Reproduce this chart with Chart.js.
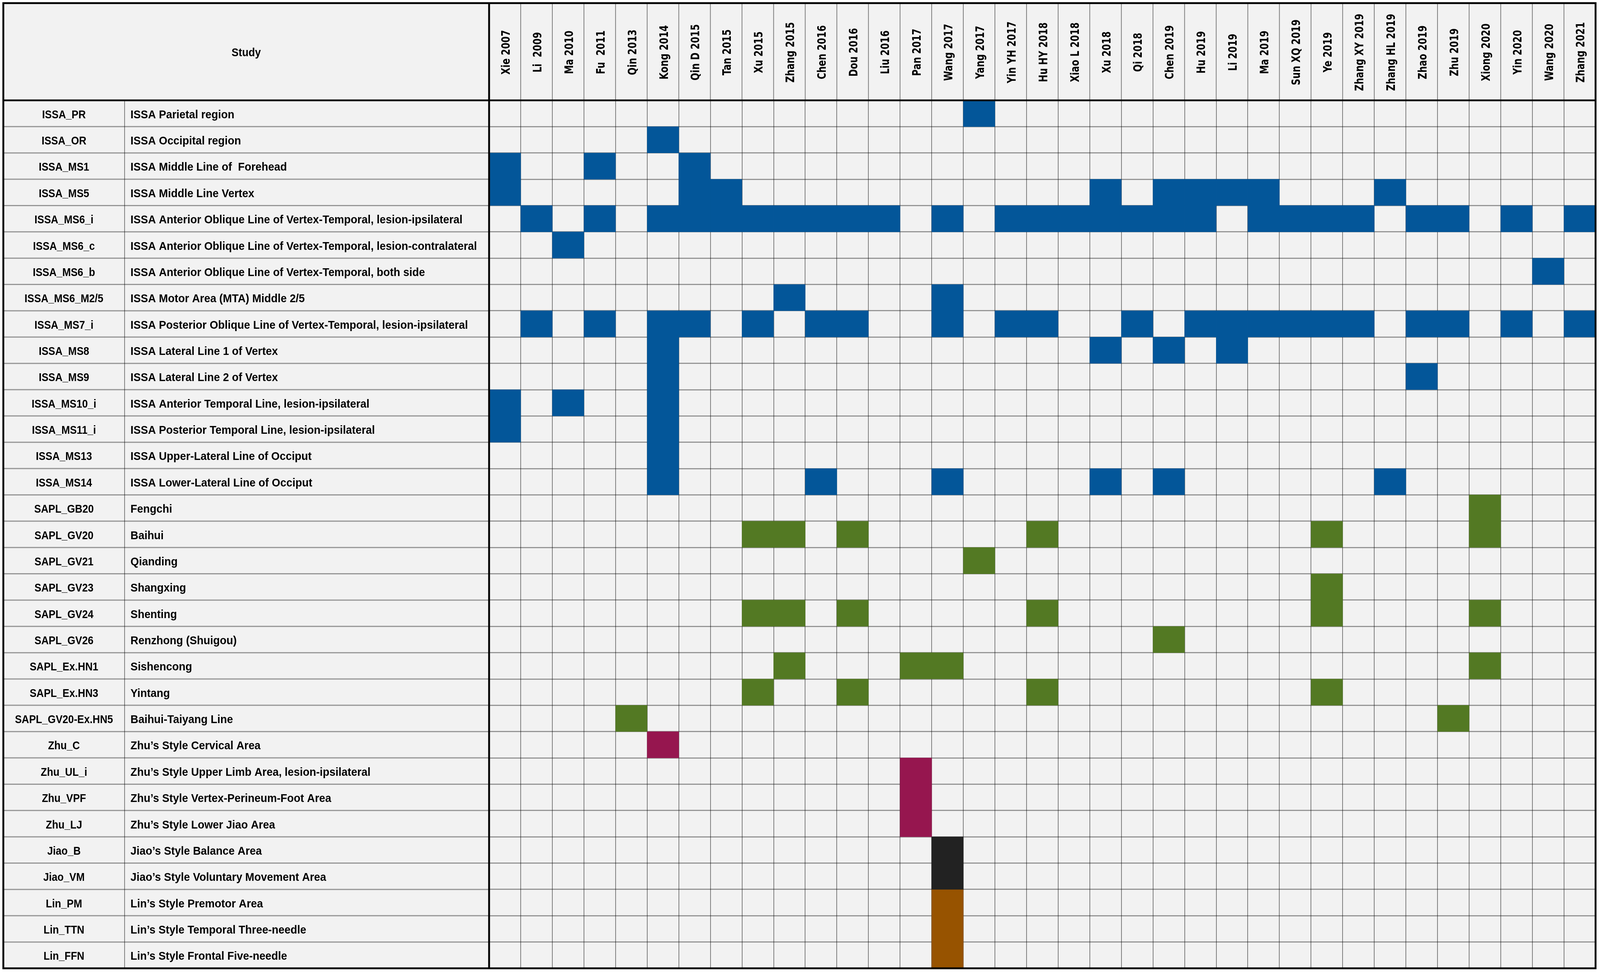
<!DOCTYPE html>
<html>
<head>
<meta charset="utf-8">
<title>Scalp acupuncture areas used per study</title>
<script src="https://cdn.jsdelivr.net/npm/chart.js@4.4.1/dist/chart.umd.min.js"></script>
<style>
  html, body { margin: 0; padding: 0; background: #fff; overflow: hidden; }
  canvas { display: block; }
</style>
</head>
<body>
<canvas id="myChart"></canvas>
<script>

var studies = ['Xie 2007', 'Li  2009', 'Ma 2010', 'Fu  2011', 'Qin 2013', 'Kong 2014', 'Qin D 2015',
  'Tan 2015', 'Xu 2015', 'Zhang 2015', 'Chen 2016', 'Dou 2016', 'Liu 2016', 'Pan 2017', 'Wang 2017',
  'Yang 2017', 'Yin YH 2017', 'Hu HY 2018', 'Xiao L 2018', 'Xu 2018', 'Qi 2018', 'Chen 2019',
  'Hu 2019', 'Li 2019', 'Ma 2019', 'Sun XQ 2019', 'Ye 2019', 'Zhang XY 2019', 'Zhang HL 2019',
  'Zhao 2019', 'Zhu 2019', 'Xiong 2020', 'Yin 2020', 'Wang 2020', 'Zhang 2021'];

var codes = ['ISSA_PR', 'ISSA_OR', 'ISSA_MS1', 'ISSA_MS5', 'ISSA_MS6_i', 'ISSA_MS6_c', 'ISSA_MS6_b',
  'ISSA_MS6_M2/5', 'ISSA_MS7_i', 'ISSA_MS8', 'ISSA_MS9', 'ISSA_MS10_i', 'ISSA_MS11_i', 'ISSA_MS13',
  'ISSA_MS14', 'SAPL_GB20', 'SAPL_GV20', 'SAPL_GV21', 'SAPL_GV23', 'SAPL_GV24', 'SAPL_GV26',
  'SAPL_Ex.HN1', 'SAPL_Ex.HN3', 'SAPL_GV20-Ex.HN5', 'Zhu_C', 'Zhu_UL_i', 'Zhu_VPF', 'Zhu_LJ',
  'Jiao_B', 'Jiao_VM', 'Lin_PM', 'Lin_TTN', 'Lin_FFN'];

var descriptions = ['ISSA Parietal region', 'ISSA Occipital region', 'ISSA Middle Line of  Forehead',
  'ISSA Middle Line Vertex', 'ISSA Anterior Oblique Line of Vertex-Temporal, lesion-ipsilateral',
  'ISSA Anterior Oblique Line of Vertex-Temporal, lesion-contralateral',
  'ISSA Anterior Oblique Line of Vertex-Temporal, both side', 'ISSA Motor Area (MTA) Middle 2/5',
  'ISSA Posterior Oblique Line of Vertex-Temporal, lesion-ipsilateral', 'ISSA Lateral Line 1 of Vertex',
  'ISSA Lateral Line 2 of Vertex', 'ISSA Anterior Temporal Line, lesion-ipsilateral',
  'ISSA Posterior Temporal Line, lesion-ipsilateral', 'ISSA Upper-Lateral Line of Occiput',
  'ISSA Lower-Lateral Line of Occiput', 'Fengchi', 'Baihui', 'Qianding', 'Shangxing', 'Shenting',
  'Renzhong (Shuigou)', 'Sishencong', 'Yintang', 'Baihui-Taiyang Line', 'Zhu\u2019s Style Cervical Area',
  'Zhu\u2019s Style Upper Limb Area, lesion-ipsilateral', 'Zhu\u2019s Style Vertex-Perineum-Foot Area',
  'Zhu\u2019s Style Lower Jiao Area', 'Jiao\u2019s Style Balance Area', 'Jiao\u2019s Style Voluntary Movement Area',
  'Lin\u2019s Style Premotor Area', 'Lin\u2019s Style Temporal Three-needle', 'Lin\u2019s Style Frontal Five-needle'];

// for every row: index of the studies (columns) that used it
var issaHits = [
  [15],
  [5],
  [0, 3, 6],
  [0, 6, 7, 19, 21, 22, 23, 24, 28],
  [1, 3, 5, 6, 7, 8, 9, 10, 11, 12, 14, 16, 17, 18, 19, 20, 21, 22, 24, 25, 26, 27, 29, 30, 32, 34],
  [2],
  [33],
  [9, 14],
  [1, 3, 5, 6, 8, 10, 11, 14, 16, 17, 20, 22, 23, 24, 25, 26, 27, 29, 30, 32, 34],
  [5, 19, 21, 23],
  [5, 29],
  [0, 2, 5],
  [0, 5],
  [5],
  [5, 10, 14, 19, 21, 28]
];
var saplHits = [
  [31],
  [8, 9, 11, 17, 26, 31],
  [15],
  [26],
  [8, 9, 11, 17, 26, 31],
  [21],
  [9, 13, 14, 31],
  [8, 11, 17, 26],
  [4, 30]
];
var zhuHits = [[5], [13], [13], [13]];
var jiaoHits = [[14], [14]];
var linHits = [[14], [14], [14]];

var groupNames = ['ISSA', 'SAPL', 'Zhu', 'Jiao', 'Lin'];
var groupColors = ['#035699', '#537923', '#96164f', '#222222', '#975300'];

// the layout is laid out for 4328 x 2492 and stretched to whatever the window really is
var W = window.innerWidth || 4328;
var H = window.innerHeight || 2492;
var sx = W / 4328, sy = H / 2492;
function X(v){ return v * sx; }
function Y(v){ return v * sy; }


function cellData(hits, firstRow){
  var out = [];
  hits.forEach(function(cols, r){
    cols.forEach(function(c){
      out.push({ y: codes[firstRow + r], x: [c, c + 1] });
    });
  });
  return out;
}


var tablePlugin = {
  id: 'table',
  beforeDraw: function(chart){
    var ctx = chart.ctx;
    ctx.save();
    ctx.fillStyle = '#ffffff';
    ctx.fillRect(0, 0, chart.width, chart.height);
    ctx.fillStyle = '#f2f2f2';
    ctx.fillRect(X(9), Y(8), chart.chartArea.right - X(9), chart.chartArea.bottom - Y(8));
    ctx.restore();
  },
  afterDraw: function(chart){
    var ctx = chart.ctx;
    var xs = chart.scales.x, ys = chart.scales.y, area = chart.chartArea;
    var left = X(9), top = Y(8), codeRight = X(337);
    var rowH = ys.getPixelForValue(1) - ys.getPixelForValue(0);

    ctx.save();

    // row lines in the label columns
    ctx.strokeStyle = 'rgba(0,0,0,0.38)';
    ctx.lineWidth = 3 * sy;
    for (var i = 0; i <= codes.length; i++) {
      var yy = ys.getPixelForValue(0) - rowH / 2 + i * rowH;
      ctx.beginPath();
      ctx.moveTo(left, yy);
      ctx.lineTo(area.left, yy);
      ctx.stroke();
    }
    ctx.lineWidth = 2 * sx;
    ctx.strokeStyle = 'rgba(0,0,0,0.5)';
    ctx.beginPath();
    ctx.moveTo(codeRight, area.top);
    ctx.lineTo(codeRight, area.bottom);
    ctx.stroke();

    // column lines in the header
    for (var c = 1; c < studies.length; c++) {
      var xx = xs.getPixelForValue(c);
      ctx.beginPath();
      ctx.moveTo(xx, top);
      ctx.lineTo(xx, area.top);
      ctx.stroke();
    }

    // row labels
    ctx.fillStyle = '#000';
    ctx.font = 'bold ' + (30 * sy) + 'px "Liberation Sans", Arial, sans-serif';
    ctx.textBaseline = 'alphabetic';
    codes.forEach(function(code, r){
      var yc = ys.getPixelForValue(r) + Y(12);
      ctx.save();
      ctx.translate((left + codeRight) / 2, yc);
      ctx.scale(0.92 * sx / sy, 1);
      ctx.textAlign = 'center';
      ctx.fillText(code, 0, 0);
      ctx.restore();

      ctx.save();
      ctx.translate(X(353), yc);
      ctx.scale(0.98 * sx / sy, 1);
      ctx.textAlign = 'left';
      ctx.fillText(descriptions[r], 0, 0);
      ctx.restore();
    });

    ctx.save();
    ctx.translate((left + area.left) / 2, Y(144));
    ctx.scale(0.95 * sx / sy, 1);
    ctx.textAlign = 'center';
    ctx.fillText('Study', 0, 0);
    ctx.restore();

    // study names, rotated
    ctx.font = 'bold ' + (31 * sx) + 'px "DejaVu Sans", Verdana, sans-serif';
    studies.forEach(function(name, c){
      ctx.save();
      ctx.translate(xs.getPixelForValue(c + 0.5) + X(13), Y(134));
      ctx.rotate(-Math.PI / 2);
      ctx.scale(0.75 * sy / sx, 1);
      ctx.textAlign = 'center';
      ctx.fillText(name, 0, 0);
      ctx.restore();
    });

    // heavy borders
    ctx.strokeStyle = '#000';
    ctx.lineWidth = 5 * Math.min(sx, sy);
    ctx.strokeRect(left, top, area.right - left, area.bottom - top);
    ctx.beginPath();
    ctx.moveTo(left, area.top);
    ctx.lineTo(area.right, area.top);
    ctx.moveTo(area.left, top);
    ctx.lineTo(area.left, area.bottom);
    ctx.stroke();

    ctx.restore();
  }
};


function init(){
  var allHits = [issaHits, saplHits, zhuHits, jiaoHits, linHits];
  var datasets = [];
  var row = 0;
  allHits.forEach(function(hits, g){
    datasets.push({
      label: groupNames[g],
      data: cellData(hits, row),
      backgroundColor: groupColors[g],
      borderWidth: 0,
      grouped: false,
      barPercentage: 1,
      categoryPercentage: 1
    });
    row += hits.length;
  });

  var canvas = document.getElementById('myChart');
  canvas.width = W;
  canvas.height = H;
  canvas.style.width = W + 'px';
  canvas.style.height = H + 'px';

  var ctx = canvas.getContext('2d');
  var myChart = new Chart(ctx, {
    type: 'bar',
    data: {
      labels: codes,
      datasets: datasets
    },
    options: {
      indexAxis: 'y',
      responsive: false,
      animation: false,
      devicePixelRatio: window.devicePixelRatio || 1,
      layout: { padding: { left: X(1323), top: Y(257), right: X(12), bottom: Y(12) } },
      plugins: { legend: { display: false }, tooltip: { enabled: false } },
      scales: {
        x: {
          type: 'linear',
          min: 0,
          max: studies.length,
          z: 1,
          ticks: { display: false, stepSize: 1 },
          grid: { color: 'rgba(0,0,0,0.5)', lineWidth: 2 * sx, drawTicks: false },
          border: { display: false },
          afterFit: function(s){ s.height = 0; }
        },
        y: {
          type: 'category',
          z: 1,
          ticks: { display: false },
          grid: { color: 'rgba(0,0,0,0.38)', lineWidth: 3 * sy, drawTicks: false, offset: true },
          border: { display: false },
          afterFit: function(s){ s.width = 0; }
        }
      }
    },
    plugins: [tablePlugin]
  });
}

window.onload = init;
</script>
</body>
</html>
